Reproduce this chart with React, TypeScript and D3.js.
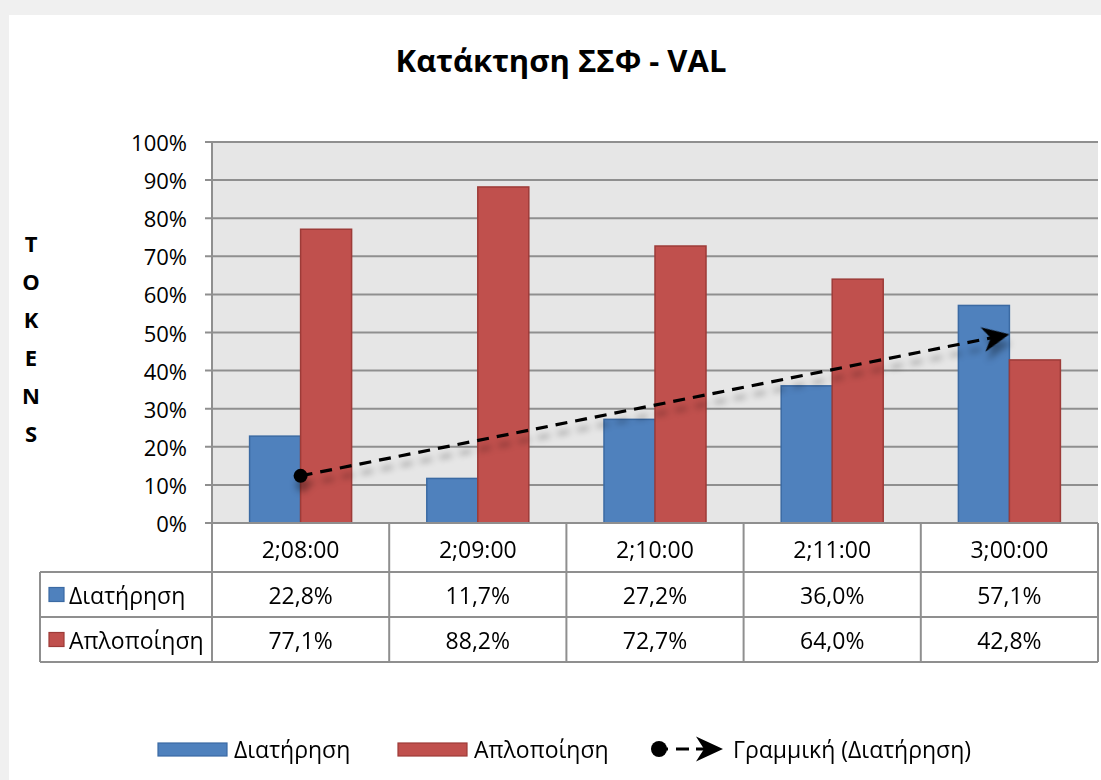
import * as d3 from "d3";

const categories = ["2;08:00", "2;09:00", "2;10:00", "2;11:00", "3;00:00"];
const seriesNames = ["Διατήρηση", "Απλοποίηση"];
const retention = [22.8, 11.7, 27.2, 36.0, 57.1];
const simplification = [77.1, 88.2, 72.7, 64.0, 42.8];
const yTicks = [0, 10, 20, 30, 40, 50, 60, 70, 80, 90, 100];
const axisTitle = ["T", "O", "K", "E", "N", "S"];
const trendLabel = "Γραμμική (Διατήρηση)";
const chartTitle = "Κατάκτηση ΣΣΦ - VAL";

const FONT = "'Open Sans', 'Noto Sans', sans-serif";
const colors = ["#4f81bd", "#c0504d"];
const strokes = ["#3b6aa3", "#9d3b38"];
const gridColor = "#8f8f8f";

const fmt = (v: number) => v.toFixed(1).replace(".", ",") + "%";

export default function App() {
  const width = 1101,
    height = 780;
  const plot = { left: 212, right: 1098, top: 142, bottom: 523 };
  const rows = [523, 572, 617, 662];
  const labelColLeft = 40;

  const x0 = d3
    .scaleBand<string>()
    .domain(categories)
    .range([plot.left, plot.right])
    .paddingInner(0)
    .paddingOuter(0);
  const x1 = d3
    .scaleBand<string>()
    .domain(seriesNames)
    .range([0, x0.bandwidth()])
    .paddingInner(0)
    .paddingOuter(0.737);
  const y = d3.scaleLinear().domain([0, 100]).range([plot.bottom, plot.top]);

  const seriesData = [retention, simplification];

  // linear trend of the retention series (x = 1..n)
  const n = retention.length;
  const xs = d3.range(1, n + 1);
  const mx = d3.mean(xs) as number;
  const my = d3.mean(retention) as number;
  const slope =
    d3.sum(xs, (x, i) => (x - mx) * (retention[i] - my)) /
    d3.sum(xs, (x) => (x - mx) * (x - mx));
  const intercept = my - slope * mx;
  const centre = (i: number) => (x0(categories[i]) as number) + x0.bandwidth() / 2;
  const tx0 = centre(0),
    ty0 = y(intercept + slope * 1);
  const tx1 = centre(n - 1),
    ty1 = y(intercept + slope * n);
  const ang = Math.atan2(ty1 - ty0, tx1 - tx0);
  const lineEndX = tx1 - 16 * Math.cos(ang);
  const lineEndY = ty1 - 16 * Math.sin(ang);
  const arrowPath = "M0,0 L-27,-12.5 L-19,0 L-27,12.5 Z";

  return (
    <div style={{ position: "absolute", left: 0, top: 0 }}>
      <svg width={width} height={height} style={{ display: "block" }} fontFamily={FONT}>
        <defs>
          <filter id="trendShadow" x="-10%" y="-50%" width="120%" height="200%">
            <feDropShadow dx="2" dy="9" stdDeviation="3" floodColor="#000" floodOpacity="0.33" />
          </filter>
        </defs>
        <rect x={0} y={0} width={width} height={height} fill="#f0f0f0" />
        <rect x={9} y={15} width={width - 9} height={height - 15} fill="#ffffff" />

        <text
          x={561}
          y={60}
          textAnchor="middle"
          dominantBaseline="central"
          fontSize={31}
          fontWeight="bold"
          fill="#000"
        >
          {chartTitle}
        </text>

        {/* y axis title */}
        {axisTitle.map((c, i) => (
          <text
            key={c + i}
            x={31}
            y={243 + i * 38}
            textAnchor="middle"
            dominantBaseline="central"
            fontSize={22}
            fontWeight="bold"
          >
            {c}
          </text>
        ))}

        {/* plot area */}
        <rect
          x={plot.left}
          y={plot.top}
          width={plot.right - plot.left}
          height={plot.bottom - plot.top}
          fill="#e6e6e6"
        />
        {yTicks.map((t) => (
          <g key={t}>
            <line
              x1={plot.left - 7}
              x2={plot.right}
              y1={y(t)}
              y2={y(t)}
              stroke={gridColor}
              strokeWidth={2}
            />
            <text
              x={187}
              y={y(t)}
              textAnchor="end"
              dominantBaseline="central"
              fontSize={22}
              fill="#000"
            >
              {t}%
            </text>
          </g>
        ))}

        {/* bars */}
        {seriesData.map((vals, s) =>
          vals.map((v, i) => (
            <rect
              key={s + "-" + i}
              x={(x0(categories[i]) as number) + (x1(seriesNames[s]) as number)}
              y={y(v)}
              width={x1.bandwidth()}
              height={plot.bottom - y(v)}
              fill={colors[s]}
              stroke={strokes[s]}
              strokeWidth={1.5}
            />
          ))
        )}

        {/* trend line */}
        <g filter="url(#trendShadow)">
          <line
            x1={tx0}
            y1={ty0}
            x2={lineEndX}
            y2={lineEndY}
            stroke="#000"
            strokeWidth={3.2}
            strokeDasharray="12 8"
          />
          <circle cx={tx0} cy={ty0} r={7} fill="#000" />
          <path
            d={arrowPath}
            fill="#000"
            transform={`translate(${tx1},${ty1}) rotate(${(ang * 180) / Math.PI})`}
          />
        </g>

        {/* axis line */}
        <line
          x1={plot.left}
          x2={plot.left}
          y1={plot.top}
          y2={rows[3]}
          stroke={gridColor}
          strokeWidth={2}
        />

        {/* data table */}
        <g stroke={gridColor} strokeWidth={2}>
          <line x1={plot.left} x2={plot.right} y1={rows[0]} y2={rows[0]} />
          <line x1={labelColLeft} x2={plot.right} y1={rows[1]} y2={rows[1]} />
          <line x1={labelColLeft} x2={plot.right} y1={rows[2]} y2={rows[2]} />
          <line x1={labelColLeft} x2={plot.right} y1={rows[3]} y2={rows[3]} />
          <line x1={labelColLeft} x2={labelColLeft} y1={rows[1]} y2={rows[3]} />
          {categories.map((c) => (
            <line
              key={c}
              x1={(x0(c) as number) + x0.bandwidth()}
              x2={(x0(c) as number) + x0.bandwidth()}
              y1={rows[0]}
              y2={rows[3]}
            />
          ))}
        </g>
        {categories.map((c) => (
          <text
            key={c}
            x={(x0(c) as number) + x0.bandwidth() / 2}
            y={(rows[0] + rows[1]) / 2 + 1}
            textAnchor="middle"
            dominantBaseline="central"
            fontSize={23}
          >
            {c}
          </text>
        ))}
        {seriesData.map((vals, s) => (
          <g key={s}>
            <rect
              x={49}
              y={(rows[s + 1] + rows[s + 2]) / 2 - 7}
              width={15}
              height={14}
              fill={colors[s]}
              stroke={strokes[s]}
              strokeWidth={1.2}
            />
            <text
              x={69}
              y={(rows[s + 1] + rows[s + 2]) / 2}
              dominantBaseline="central"
              fontSize={23}
            >
              {seriesNames[s]}
            </text>
            {vals.map((v, i) => (
              <text
                key={i}
                x={(x0(categories[i]) as number) + x0.bandwidth() / 2}
                y={(rows[s + 1] + rows[s + 2]) / 2}
                textAnchor="middle"
                dominantBaseline="central"
                fontSize={23}
              >
                {fmt(v)}
              </text>
            ))}
          </g>
        ))}

        {/* legend */}
        {[158, 398].map((lx, s) => (
          <g key={s}>
            <rect
              x={lx}
              y={743}
              width={69}
              height={13}
              fill={colors[s]}
              stroke={strokes[s]}
              strokeWidth={1.2}
            />
            <text x={lx + 76} y={749} dominantBaseline="central" fontSize={23}>
              {seriesNames[s]}
            </text>
          </g>
        ))}
        <g>
          <circle cx={659} cy={749} r={8} fill="#000" />
          <line x1={659} x2={668} y1={749} y2={749} stroke="#000" strokeWidth={3} />
          <line x1={676} x2={689} y1={749} y2={749} stroke="#000" strokeWidth={3} />
          <line x1={696} x2={708} y1={749} y2={749} stroke="#000" strokeWidth={3} />
          <path d={arrowPath} fill="#000" transform="translate(723,749)" />
          <text x={733} y={749} dominantBaseline="central" fontSize={23}>
            {trendLabel}
          </text>
        </g>
      </svg>
    </div>
  );
}
